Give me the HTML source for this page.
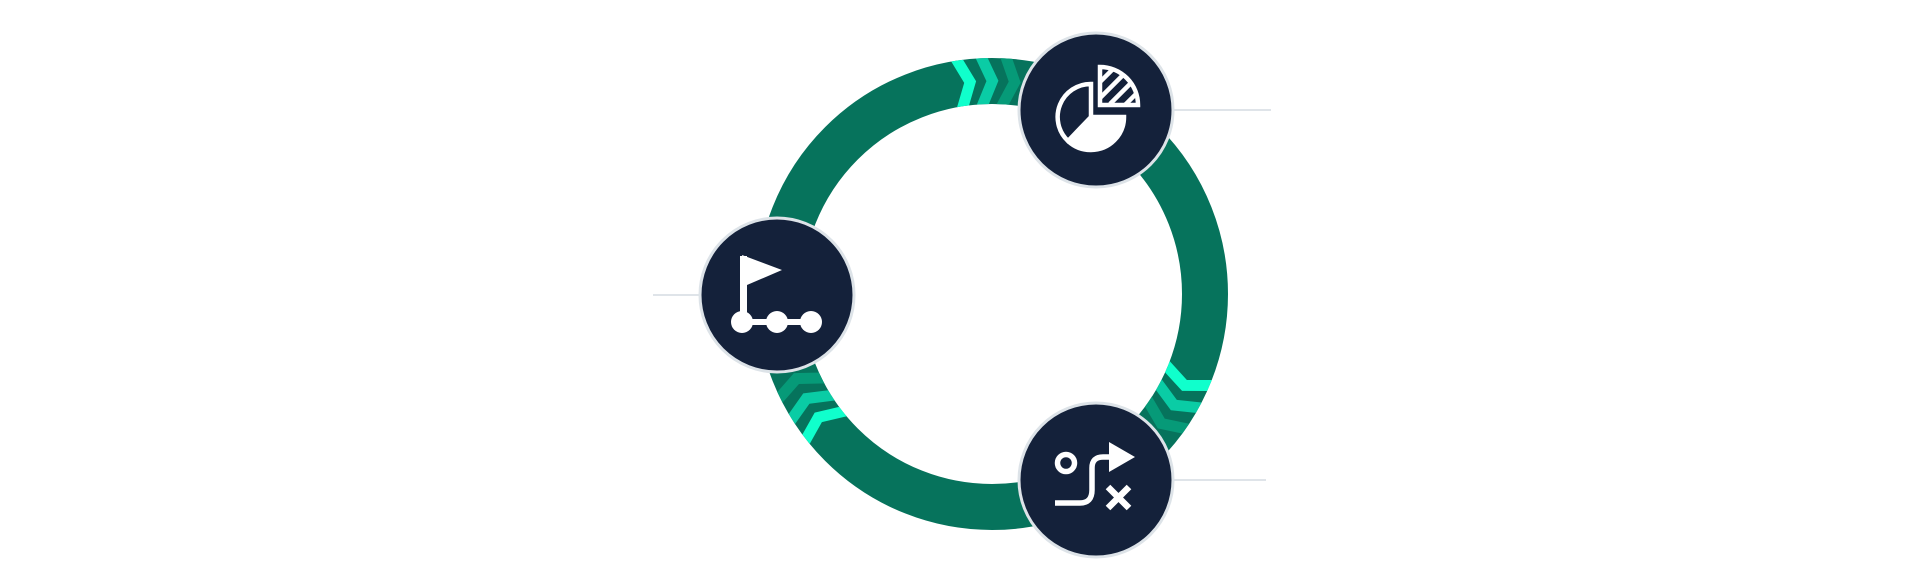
<!DOCTYPE html>
<html><head><style>html,body{margin:0;padding:0;background:#fff;width:1920px;height:581px;overflow:hidden}</style></head>
<body>
<svg width="1920" height="581" viewBox="0 0 1920 581" xmlns="http://www.w3.org/2000/svg">
<defs>
<clipPath id="ring"><path fill-rule="evenodd" d="M992,58a236,236 0 1,0 0.01,0zM992,104a190,190 0 1,1 -0.01,0z"/></clipPath>
</defs>
<line x1="653" y1="295" x2="700" y2="295" stroke="#dfe4e9" stroke-width="2"/>
<line x1="1173" y1="110" x2="1271" y2="110" stroke="#dfe4e9" stroke-width="2"/>
<line x1="1173" y1="480" x2="1266" y2="480" stroke="#dfe4e9" stroke-width="2"/>
<circle cx="992" cy="294" r="213" fill="none" stroke="#06735c" stroke-width="46"/>
<g clip-path="url(#ring)">
<g transform="translate(992,294)">
 <polygon transform="rotate(-97.5)" fill="#10ffcc" points="188,-11 213,0 238,-11 238,1 213,12 188,1"/>
 <polygon transform="rotate(-91.5)" fill="#0acca5" points="188,-11 213,0 238,-11 238,1 213,12 188,1"/>
 <polygon transform="rotate(-85.5)" fill="#069a78" points="188,-11 213,0 238,-11 238,1 213,12 188,1"/>
 <polygon transform="rotate(23.8)" fill="#10ffcc" points="188,-11 213,0 238,-11 238,1 213,12 188,1"/>
 <polygon transform="rotate(29.8)" fill="#0acca5" points="188,-11 213,0 238,-11 238,1 213,12 188,1"/>
 <polygon transform="rotate(35.8)" fill="#069a78" points="188,-11 213,0 238,-11 238,1 213,12 188,1"/>
 <polygon transform="rotate(143)" fill="#10ffcc" points="188,-11 213,0 238,-11 238,1 213,12 188,1"/>
 <polygon transform="rotate(149)" fill="#0acca5" points="188,-11 213,0 238,-11 238,1 213,12 188,1"/>
 <polygon transform="rotate(155)" fill="#069a78" points="188,-11 213,0 238,-11 238,1 213,12 188,1"/>
</g>
</g>
<g fill="#14213a" stroke="#dde3e8" stroke-width="3">
 <circle cx="1096" cy="110" r="77"/>
 <circle cx="777" cy="295" r="77"/>
 <circle cx="1096" cy="480" r="77"/>
</g>
<g>
 <path d="M1091,117 L1124,117 A33,33 0 0 1 1068,141 Z" fill="#fff"/>
 <path d="M1068,141 A33,33 0 0 1 1091,84 L1091,117 Z" fill="none" stroke="#fff" stroke-width="4.5"/>
 <path d="M1091,117 L1124,117 A33,33 0 0 1 1091,150 A33,33 0 0 1 1068,141" fill="none" stroke="#fff" stroke-width="4.5"/>
 <path d="M1100,67 A38,38 0 0 1 1138,105 L1100,105 Z" fill="none" stroke="#fff" stroke-width="4.5"/>
 <clipPath id="wedge"><path d="M1100,67 A38,38 0 0 1 1138,105 L1100,105 Z"/></clipPath>
 <g clip-path="url(#wedge)" stroke="#fff" stroke-width="4.5">
  <line x1="1098" y1="84" x2="1116" y2="66"/>
  <line x1="1100" y1="98" x2="1128" y2="70"/>
  <line x1="1110" y1="104" x2="1138" y2="76"/>
  <line x1="1124" y1="106" x2="1142" y2="88"/>
 </g>
</g>
<g fill="#fff">
 <rect x="740" y="256" width="7" height="66"/>
 <path d="M742,255 L782,270 L747,285 Z"/>
 <rect x="740" y="319" width="70" height="6"/>
 <circle cx="742" cy="322" r="11"/>
 <circle cx="777" cy="322" r="11"/>
 <circle cx="811" cy="322" r="11"/>
</g>
<g fill="none" stroke="#fff" stroke-width="5.5">
 <circle cx="1066" cy="463" r="8.5"/>
 <path d="M1055,503 L1080,503 Q1092,503 1092,490 L1092,468 Q1092,457 1103,457 L1112,457"/>
 <path d="M1108,487 L1129,508 M1129,487 L1108,508" stroke-width="6.5"/>
</g>
<path d="M1109,442 L1135,457 L1109,472 Z" fill="#fff"/>
</svg>
</body></html>
